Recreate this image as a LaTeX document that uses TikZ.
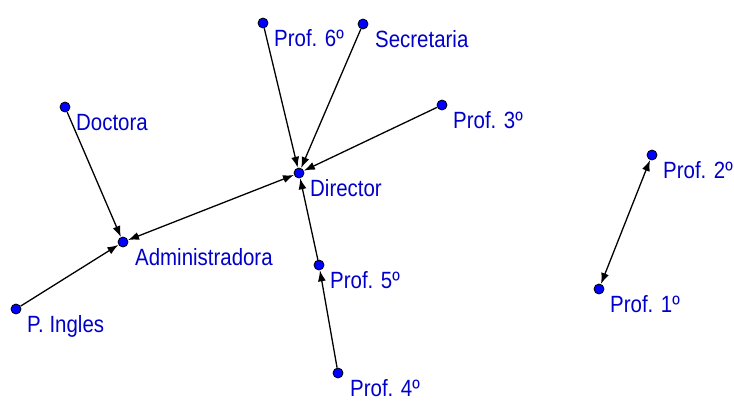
\documentclass[tikz,border=0pt]{standalone}
\usepackage{fontspec}
\setmainfont[FakeStretch=0.87]{Liberation Sans}
\usetikzlibrary{arrows.meta}
\definecolor{lblue}{RGB}{0,0,200}
\definecolor{dblue}{RGB}{0,0,255}
\tikzset{
  dot/.style={circle,fill=dblue,draw=black,line width=0.8pt,minimum size=10pt,inner sep=0pt},
  lbl/.style={anchor=base west,inner sep=0pt,text=lblue,font=\fontsize{23.5}{26}\selectfont},
  edge/.style={draw=black,line width=1.3pt,-{Latex[length=11pt,width=8pt]}},
  bedge/.style={draw=black,line width=1.3pt,{Latex[length=11pt,width=8pt]}-{Latex[length=11pt,width=8pt]}}
}
\begin{document}
\begin{tikzpicture}[x=1pt,y=-1pt]
\useasboundingbox[fill=white] (0,0) rectangle (734,400);
% dots
\node[dot] (p6) at (263,23) {};
\node[dot] (sec) at (363,24) {};
\node[dot] (doc) at (65,107) {};
\node[dot] (p3) at (442,105) {};
\node[dot] (dir) at (299,173) {};
\node[dot] (p2) at (652,155) {};
\node[dot] (adm) at (123,242) {};
\node[dot] (p5) at (319,265) {};
\node[dot] (p1) at (599,289) {};
\node[dot] (pin) at (16,309) {};
\node[dot] (p4) at (338,373) {};
% labels
\node[lbl] (lp6) at (274,46) {Prof. 6º};
\node[lbl] (lsec) at (375,47) {Secretaria};
\node[lbl] (ldoc) at (76,130) {Doctora};
\node[lbl] (lp3) at (453,128) {Prof. 3º};
\node[lbl] (ldir) at (310,196) {Director};
\node[lbl] (lp2) at (663,178) {Prof. 2º};
\node[lbl] (ladm) at (135,265) {Administradora};
\node[lbl] (lp5) at (330,288) {Prof. 5º};
\node[lbl] (lp1) at (610,312) {Prof. 1º};
\node[lbl] (lpin) at (27,332) {P. Ingles};
\node[lbl] (lp4) at (350,396) {Prof. 4º};
% connectors
\draw[edge] (p6) -- (dir);
\draw[edge] (sec) -- (dir);
\draw[edge] (p3) -- (dir);
\draw[edge] (doc) -- (adm);
\draw[bedge] (adm) -- (dir);
\draw[edge] (pin) -- (adm);
\draw[edge] (p5) -- (dir);
\draw[edge] (p4) -- (p5);
\draw[bedge] (p2) -- (p1);
\end{tikzpicture}
\end{document}
